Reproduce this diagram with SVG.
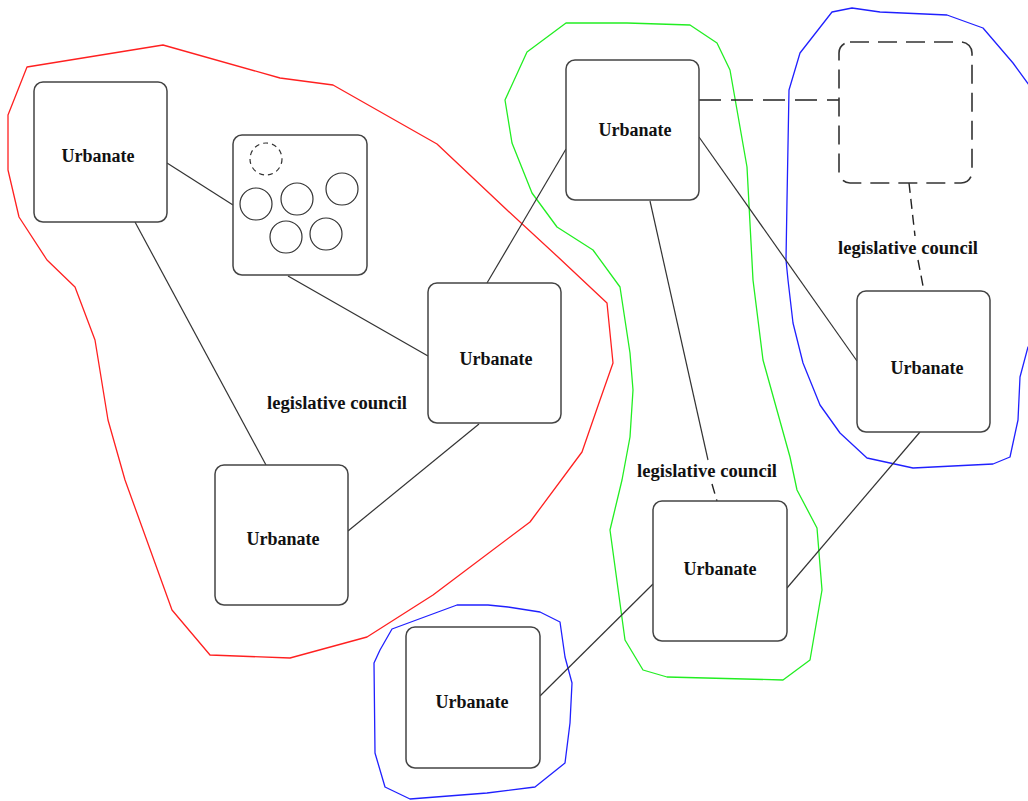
<svg xmlns="http://www.w3.org/2000/svg" width="1028" height="801" viewBox="0 0 1028 801">
  <style>
    .node { fill: #fff; stroke: #444; stroke-width: 1.5; }
    .ghost { fill: none; stroke: #333; stroke-width: 1.6; stroke-dasharray: 19 9; }
    .lbl { font-family: "Liberation Serif", "Times New Roman", serif; font-weight: bold; font-size: 18px; fill: #111; text-anchor: middle; }
    .wide { font-size: 18.6px; }
    .edge { fill: none; stroke: #333; stroke-width: 1.2; }
    .dash { stroke: #222; stroke-width: 1.6; stroke-dasharray: 22 10; }
    .dash2 { stroke: #222; stroke-width: 1.4; stroke-dasharray: 10 6; }
    .hull { fill: none; stroke-width: 1.3; stroke-linejoin: round; }
    .dot { fill: none; stroke: #333; stroke-width: 1.2; }
  </style>
  <rect width="1028" height="801" fill="#fff"/>

  <!-- group outlines -->
  <g id="hulls">
    <polygon class="hull" stroke="#ff2020" points="27,67 163,45 280,78 333,85 437,144 507,210 558,257 607,303 613,363 600,400 582,452 530,522 433,595 367,637 290,658 210,655 172,610 125,480 108,420 95,340 75,287 47,260 19,217 8,170 8,115"/>
    <polygon class="hull" stroke="#22ee22" points="566,23 627,23 690,25 717,43 730,70 747,167 753,280 763,360 790,457 797,490 817,528 822,590 810,660 783,680 667,677 643,670 625,640 610,530 622,480 630,437 633,390 630,353 620,287 593,250 557,227 532,193 512,143 505,100 527,52"/>
    <polyline class="hull" stroke="#2020ff" points="1040,340 1028,347 1020,377 1018,420 1010,457 993,464 913,468 867,458 840,433 820,405 803,363 793,323 788,280 786,260 787,200 789,90 800,53 832,12 852,8 880,12 947,15 983,28 1013,63 1040,100"/>
    <polygon class="hull" stroke="#2020ff" points="392,629 457,605 488,605 508,607 540,612 560,622 565,657 572,683 570,723 565,763 535,787 487,793 410,799 385,787 375,753 374,663 380,650"/>
  </g>

  <!-- connectors -->
  <g id="connectors">
    <line class="edge" x1="167" y1="163" x2="233" y2="205"/>
    <line class="edge" x1="135" y1="222" x2="266" y2="465"/>
    <line class="edge" x1="288" y1="276" x2="428" y2="356"/>
    <line class="edge" x1="487" y1="283" x2="566" y2="149"/>
    <line class="edge" x1="348" y1="531" x2="479" y2="424"/>
    <line class="edge" x1="699" y1="137" x2="857" y2="361"/>
    <line class="edge" x1="650" y1="201" x2="708" y2="460"/>
    <line class="edge dash2" x1="712" y1="484" x2="717" y2="501"/>
    <line class="edge dash" x1="699" y1="100" x2="839" y2="100"/>
    <line class="edge dash2" x1="909" y1="183" x2="915" y2="236"/>
    <line class="edge dash2" x1="918" y1="260" x2="924" y2="291"/>
    <line class="edge" x1="920" y1="432" x2="787" y2="588"/>
    <line class="edge" x1="653" y1="584" x2="540" y2="696"/>
    <text class="lbl wide" x="337" y="409">legislative council</text>
    <text class="lbl wide" x="908" y="254">legislative council</text>
    <text class="lbl wide" x="707" y="477">legislative council</text>
  </g>

  <!-- nodes -->
  <g id="node-a">
    <rect class="node" x="34" y="82" width="133" height="140" rx="9"/>
    <text class="lbl" x="98" y="162">Urbanate</text>
  </g>
  <g id="node-cluster">
    <rect class="node" x="233" y="135" width="134" height="140" rx="9"/>
    <circle class="dot" cx="266" cy="159" r="16" stroke-dasharray="5 4"/>
    <circle class="dot" cx="256" cy="204" r="16"/>
    <circle class="dot" cx="297" cy="199" r="16"/>
    <circle class="dot" cx="342" cy="189" r="16"/>
    <circle class="dot" cx="286" cy="237" r="16"/>
    <circle class="dot" cx="326" cy="234" r="16"/>
  </g>
  <g id="node-b">
    <rect class="node" x="428" y="283" width="133" height="140" rx="9"/>
    <text class="lbl" x="496" y="365">Urbanate</text>
  </g>
  <g id="node-c">
    <rect class="node" x="215" y="465" width="133" height="140" rx="9"/>
    <text class="lbl" x="283" y="545">Urbanate</text>
  </g>
  <g id="node-d">
    <rect class="node" x="566" y="60" width="133" height="140" rx="9"/>
    <text class="lbl" x="635" y="136">Urbanate</text>
  </g>
  <g id="node-e">
    <rect class="ghost" x="839" y="42" width="133" height="141" rx="11"/>
  </g>
  <g id="node-f">
    <rect class="node" x="857" y="291" width="133" height="141" rx="9"/>
    <text class="lbl" x="927" y="374">Urbanate</text>
  </g>
  <g id="node-g">
    <rect class="node" x="653" y="501" width="134" height="140" rx="9"/>
    <text class="lbl" x="720" y="575">Urbanate</text>
  </g>
  <g id="node-h">
    <rect class="node" x="406" y="627" width="134" height="141" rx="9"/>
    <text class="lbl" x="472" y="708">Urbanate</text>
  </g>
</svg>
